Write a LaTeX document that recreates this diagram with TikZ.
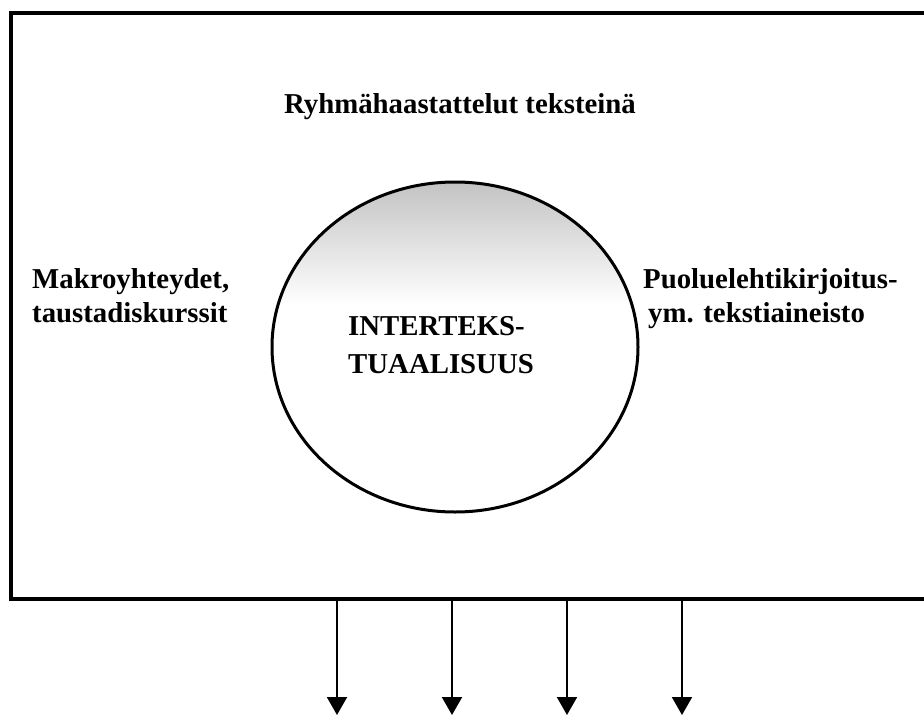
\documentclass[tikz,border=0pt]{standalone}
\usepackage{fontspec}
\setmainfont{Liberation Serif}
\usetikzlibrary{arrows.meta,shapes.geometric}
\tikzset{
  lbl/.style={font=\fontsize{28.8}{34}\selectfont\bfseries, inner sep=0pt, align=left},
  frameline/.style={line width=4pt, line cap=rect},
  ring/.style={line width=3pt},
  outarrow/.style={line width=2pt, -{Triangle[length=18pt,width=20pt]}}
}
\begin{document}
\begin{tikzpicture}[x=1pt,y=-1pt]
\useasboundingbox (0,0) rectangle (924,715);
% frame (right side runs off the picture)
\draw[frameline] (924,13) -- (11,13) -- (11,599) -- (924,599);
% circle with light shaded top
\begin{scope}
  \clip (455,347) ellipse [x radius=183, y radius=165];
  \shade[top color=black!24, bottom color=white] (270,180) rectangle (640,305);
\end{scope}
\node[draw, ring, ellipse, minimum width=366pt, minimum height=330pt, inner sep=0pt] (circ) at (455,347) {};
% labels (base anchor = baseline of the last line)
\node[lbl, anchor=base] (title) at (460,113) {Ryhmähaastattelut teksteinä};
\node[lbl, anchor=base west] (left) at (32,322) {Makroyhteydet,\\taustadiskurssit};
\node[lbl, anchor=base west] (right) at (643,322) {Puoluelehtikirjoitus-\\\hspace*{5pt}ym. tekstiaineisto};
\node[lbl, anchor=base west, font=\fontsize{28.8}{38}\selectfont\bfseries] (center) at (348,373) {INTERTEKS-\\TUAALISUUS};
% output arrows
\foreach \i/\x in {1/337,2/452,3/567,4/682}{
  \coordinate (s\i) at (\x,599);
  \coordinate (e\i) at (\x,715);
  \draw[outarrow] (s\i) -- (e\i);
}
\end{tikzpicture}
\end{document}
